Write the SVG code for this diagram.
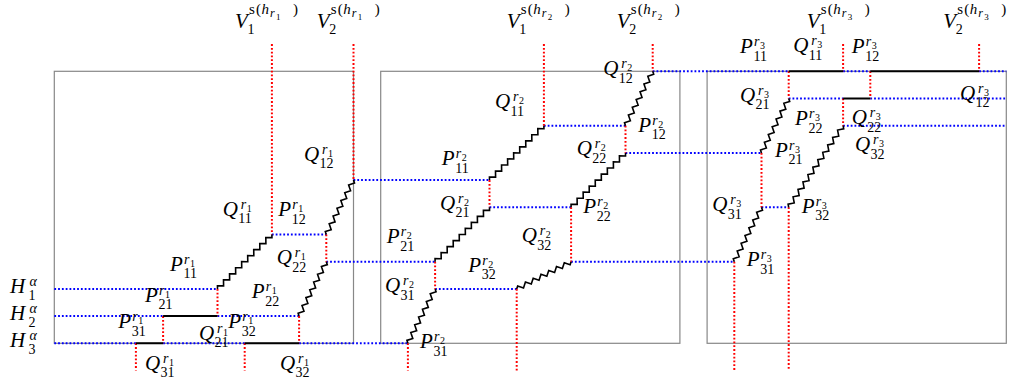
<svg xmlns="http://www.w3.org/2000/svg" xmlns:xlink="http://www.w3.org/1999/xlink" width="1017" height="390" viewBox="0 0 1017 390">
<style>
text{font-family:"Liberation Serif","Times New Roman",serif;fill:#000}
.m{font-size:21px;font-style:italic}
.s{font-size:14px;font-style:normal}
.si{font-size:14px;font-style:italic}
.ss{font-size:10px;font-style:normal}
.vs{font-size:15px;font-style:normal}
.vi{font-size:15px;font-style:italic}
.vr{font-size:12px;font-style:italic}
.vd{font-size:9px;font-style:normal}
.box{fill:none;stroke:#888;stroke-width:1.2}
.blue{fill:none;stroke:#0000ff;stroke-width:2;stroke-dasharray:1.8 2}
.red{fill:none;stroke:#ff0000;stroke-width:2;stroke-dasharray:1.8 2}
.solid{fill:none;stroke:#000;stroke-width:2}
.zz{fill:none;stroke:#000;stroke-width:1.6;stroke-linejoin:miter}
</style>
<defs>
<path id="zA" d="M0 0l2.137-2.2l4.274 4.4l4.274-4.4l4.274 4.4l4.274-4.4l4.274 4.4l4.274-4.4l4.274 4.4l4.274-4.4l4.274 4.4l4.274-4.4l4.274 4.4l4.274-4.4l4.274 4.4l4.274-4.4l4.274 4.4l4.274-4.4l4.274 4.4l2.137-2.2"/>
<path id="zB" d="M0 0l2.172-2.2l4.344 4.4l4.344-4.4l4.344 4.4l4.344-4.4l4.344 4.4l4.344-4.4l4.344 4.4l4.344-4.4l4.344 4.4l4.344-4.4l4.344 4.4l4.344-4.4l4.344 4.4l2.172-2.2"/>
<path id="zC" d="M0 0l2.229-2.2l4.458 4.4l4.458-4.4l4.458 4.4l4.458-4.4l4.458 4.4l4.458-4.4l4.458 4.4l4.458-4.4l4.458 4.4l4.458-4.4l4.458 4.4l4.458-4.4l4.458 4.4l4.458-4.4l4.458 4.4l4.458-4.4l4.458 4.4l4.458-4.4l4.458 4.4l4.458-4.4l4.458 4.4l2.229-2.2"/>
</defs>
<g id="frames">
<rect class="box" x="54.3" y="71.3" width="299.2" height="272"/>
<rect class="box" x="380.7" y="71.3" width="299.2" height="272"/>
<rect class="box" x="707.1" y="71.3" width="299.2" height="272"/>
</g>
<g id="connectors">
<path class="blue" d="M54.3 288.9H217.5M54.3 316.1H163.1M217.5 316.1H299.1M54.3 343.3H135.9M163.1 343.3H244.7M299.1 343.3H407.9M271.9 234.5H326.3M326.3 261.7H435.1M353.5 180.1H489.5M435.1 288.9H516.7M489.5 207.3H571.1M571.1 261.7H734.3M543.9 125.7H625.5M625.5 152.9H761.5M652.7 71.3H788.7M843.1 71.3H870.3M979.1 71.3H1006.3M788.7 98.5H843.1M870.3 98.5H1006.3M843.1 125.7H1006.3M761.5 207.3H788.7"/>
<path class="red" d="M135.9 343.3V370.5M163.1 316.1V343.3M217.5 288.9V316.1M244.7 343.3V370.5M271.9 44.1V234.5M299.1 316.1V343.3M326.3 234.5V261.7M353.5 44.1V180.1M407.9 343.3V370.5M435.1 261.7V288.9M489.5 180.1V207.3M516.7 288.9V370.5M543.9 44.1V125.7M571.1 207.3V261.7M625.5 125.7V152.9M652.7 44.1V71.3M734.3 261.7V370.5M761.5 152.9V207.3M788.7 71.3V98.5M788.7 207.3V370.5M843.1 44.1V71.3M843.1 98.5V125.7M870.3 71.3V98.5M979.1 44.1V71.3"/>
<path class="solid" d="M163.1 316.1H217.5M135.9 343.3H163.1M244.7 343.3H299.1M788.7 71.3H843.1M870.3 71.3H979.1M843.1 98.5H870.3"/>
<use class="zz" xlink:href="#zA" transform="translate(217.5,288.9) rotate(-45)"/>
<use class="zz" xlink:href="#zB" transform="translate(299.1,316.1) rotate(-63.435)"/>
<use class="zz" xlink:href="#zB" transform="translate(326.3,234.5) rotate(-63.435)"/>
<use class="zz" xlink:href="#zB" transform="translate(407.9,343.3) rotate(-63.435)"/>
<use class="zz" xlink:href="#zA" transform="translate(435.1,261.7) rotate(-45)"/>
<use class="zz" xlink:href="#zA" transform="translate(489.5,180.1) rotate(-45)"/>
<use class="zz" xlink:href="#zB" transform="translate(516.7,288.9) rotate(-26.565)"/>
<use class="zz" xlink:href="#zA" transform="translate(571.1,207.3) rotate(-45)"/>
<use class="zz" xlink:href="#zB" transform="translate(625.5,125.7) rotate(-63.435)"/>
<use class="zz" xlink:href="#zB" transform="translate(734.3,261.7) rotate(-63.435)"/>
<use class="zz" xlink:href="#zB" transform="translate(761.5,152.9) rotate(-63.435)"/>
<use class="zz" xlink:href="#zC" transform="translate(788.7,207.3) rotate(-56.31)"/>
</g>
<g id="H1"><text><tspan class="m" x="10" y="292.7">H</tspan><tspan class="si" x="29.5" y="285.5">α</tspan><tspan class="s" x="28.5" y="299.5">1</tspan></text></g>
<g id="H2"><text><tspan class="m" x="10" y="320">H</tspan><tspan class="si" x="29.5" y="312.8">α</tspan><tspan class="s" x="28.5" y="326.8">2</tspan></text></g>
<g id="H3"><text><tspan class="m" x="10" y="347">H</tspan><tspan class="si" x="29.5" y="339.8">α</tspan><tspan class="s" x="28.5" y="353.8">3</tspan></text></g>
<g id="V1r1"><text><tspan class="m" x="235" y="28">V</tspan><tspan class="s" x="247.5" y="33.5">1</tspan><tspan class="vs" x="249" y="14">s</tspan><tspan class="vs" x="256" y="14">(</tspan><tspan class="vi" x="261.5" y="14">h</tspan><tspan class="vr" x="270" y="17">r</tspan><tspan class="vd" x="276" y="19.5">1</tspan><tspan class="vs" x="293" y="14">)</tspan></text></g>
<g id="V2r1"><text><tspan class="m" x="316.7" y="28">V</tspan><tspan class="s" x="329.2" y="33.5">2</tspan><tspan class="vs" x="330.7" y="14">s</tspan><tspan class="vs" x="337.7" y="14">(</tspan><tspan class="vi" x="343.2" y="14">h</tspan><tspan class="vr" x="351.7" y="17">r</tspan><tspan class="vd" x="357.7" y="19.5">1</tspan><tspan class="vs" x="374.7" y="14">)</tspan></text></g>
<g id="V1r2"><text><tspan class="m" x="506.7" y="28">V</tspan><tspan class="s" x="519.2" y="33.5">1</tspan><tspan class="vs" x="520.7" y="14">s</tspan><tspan class="vs" x="527.7" y="14">(</tspan><tspan class="vi" x="533.2" y="14">h</tspan><tspan class="vr" x="541.7" y="17">r</tspan><tspan class="vd" x="547.7" y="19.5">2</tspan><tspan class="vs" x="564.7" y="14">)</tspan></text></g>
<g id="V2r2"><text><tspan class="m" x="616.7" y="28">V</tspan><tspan class="s" x="629.2" y="33.5">2</tspan><tspan class="vs" x="630.7" y="14">s</tspan><tspan class="vs" x="637.7" y="14">(</tspan><tspan class="vi" x="643.2" y="14">h</tspan><tspan class="vr" x="651.7" y="17">r</tspan><tspan class="vd" x="657.7" y="19.5">2</tspan><tspan class="vs" x="674.7" y="14">)</tspan></text></g>
<g id="V1r3"><text><tspan class="m" x="806.7" y="28">V</tspan><tspan class="s" x="819.2" y="33.5">1</tspan><tspan class="vs" x="820.7" y="14">s</tspan><tspan class="vs" x="827.7" y="14">(</tspan><tspan class="vi" x="833.2" y="14">h</tspan><tspan class="vr" x="841.7" y="17">r</tspan><tspan class="vd" x="847.7" y="19.5">3</tspan><tspan class="vs" x="864.7" y="14">)</tspan></text></g>
<g id="V2r3"><text><tspan class="m" x="943.3" y="28">V</tspan><tspan class="s" x="955.8" y="33.5">2</tspan><tspan class="vs" x="957.3" y="14">s</tspan><tspan class="vs" x="964.3" y="14">(</tspan><tspan class="vi" x="969.8" y="14">h</tspan><tspan class="vr" x="978.3" y="17">r</tspan><tspan class="vd" x="984.3" y="19.5">3</tspan><tspan class="vs" x="1001.3" y="14">)</tspan></text></g>
<g id="Q12r1"><text><tspan class="m" x="304" y="160.5">Q</tspan><tspan class="si" x="322" y="153.5">r</tspan><tspan class="ss" x="328" y="156.5">1</tspan><tspan class="s" x="319.5" y="168.2">12</tspan></text></g>
<g id="Q11r1"><text><tspan class="m" x="222.7" y="215.7">Q</tspan><tspan class="si" x="240.7" y="208.7">r</tspan><tspan class="ss" x="246.7" y="211.7">1</tspan><tspan class="s" x="238.2" y="223.4">11</tspan></text></g>
<g id="P12r1"><text><tspan class="m" x="278.3" y="216">P</tspan><tspan class="si" x="292.3" y="209">r</tspan><tspan class="ss" x="298.3" y="212">1</tspan><tspan class="s" x="291.8" y="223.7">12</tspan></text></g>
<g id="P11r1"><text><tspan class="m" x="170" y="270.7">P</tspan><tspan class="si" x="184" y="263.7">r</tspan><tspan class="ss" x="190" y="266.7">1</tspan><tspan class="s" x="183.5" y="278.4">11</tspan></text></g>
<g id="Q22r1"><text><tspan class="m" x="276.7" y="264">Q</tspan><tspan class="si" x="294.7" y="257">r</tspan><tspan class="ss" x="300.7" y="260">1</tspan><tspan class="s" x="292.2" y="271.7">22</tspan></text></g>
<g id="P22r1"><text><tspan class="m" x="251.7" y="298.3">P</tspan><tspan class="si" x="265.7" y="291.3">r</tspan><tspan class="ss" x="271.7" y="294.3">1</tspan><tspan class="s" x="265.2" y="306">22</tspan></text></g>
<g id="P21r1"><text><tspan class="m" x="145" y="301.7">P</tspan><tspan class="si" x="159" y="294.7">r</tspan><tspan class="ss" x="165" y="297.7">1</tspan><tspan class="s" x="158.5" y="309.4">21</tspan></text></g>
<g id="P31r1"><text><tspan class="m" x="118.3" y="328.3">P</tspan><tspan class="si" x="132.3" y="321.3">r</tspan><tspan class="ss" x="138.3" y="324.3">1</tspan><tspan class="s" x="131.8" y="336">31</tspan></text></g>
<g id="Q21r1"><text><tspan class="m" x="199" y="339.5">Q</tspan><tspan class="si" x="217" y="332.5">r</tspan><tspan class="ss" x="223" y="335.5">1</tspan><tspan class="s" x="214.5" y="347.2">21</tspan></text></g>
<g id="P32r1"><text><tspan class="m" x="228.3" y="328.3">P</tspan><tspan class="si" x="242.3" y="321.3">r</tspan><tspan class="ss" x="248.3" y="324.3">1</tspan><tspan class="s" x="241.8" y="336">32</tspan></text></g>
<g id="Q31r1"><text><tspan class="m" x="145" y="369.6">Q</tspan><tspan class="si" x="163" y="362.6">r</tspan><tspan class="ss" x="169" y="365.6">1</tspan><tspan class="s" x="160.5" y="377.3">31</tspan></text></g>
<g id="Q32r1"><text><tspan class="m" x="280" y="369.6">Q</tspan><tspan class="si" x="298" y="362.6">r</tspan><tspan class="ss" x="304" y="365.6">1</tspan><tspan class="s" x="295.5" y="377.3">32</tspan></text></g>
<g id="Q12r2"><text><tspan class="m" x="603.3" y="75">Q</tspan><tspan class="si" x="621.3" y="68">r</tspan><tspan class="ss" x="627.3" y="71">2</tspan><tspan class="s" x="618.8" y="82.7">12</tspan></text></g>
<g id="Q11r2"><text><tspan class="m" x="495" y="108">Q</tspan><tspan class="si" x="513" y="101">r</tspan><tspan class="ss" x="519" y="104">2</tspan><tspan class="s" x="510.5" y="115.7">11</tspan></text></g>
<g id="P12r2"><text><tspan class="m" x="638.3" y="131.7">P</tspan><tspan class="si" x="652.3" y="124.7">r</tspan><tspan class="ss" x="658.3" y="127.7">2</tspan><tspan class="s" x="651.8" y="139.4">12</tspan></text></g>
<g id="Q22r2"><text><tspan class="m" x="576.7" y="155.3">Q</tspan><tspan class="si" x="594.7" y="148.3">r</tspan><tspan class="ss" x="600.7" y="151.3">2</tspan><tspan class="s" x="592.2" y="163">22</tspan></text></g>
<g id="P11r2"><text><tspan class="m" x="441.7" y="165">P</tspan><tspan class="si" x="455.7" y="158">r</tspan><tspan class="ss" x="461.7" y="161">2</tspan><tspan class="s" x="455.2" y="172.7">11</tspan></text></g>
<g id="Q21r2"><text><tspan class="m" x="440" y="209.5">Q</tspan><tspan class="si" x="458" y="202.5">r</tspan><tspan class="ss" x="464" y="205.5">2</tspan><tspan class="s" x="455.5" y="217.2">21</tspan></text></g>
<g id="P22r2"><text><tspan class="m" x="583.3" y="213.3">P</tspan><tspan class="si" x="597.3" y="206.3">r</tspan><tspan class="ss" x="603.3" y="209.3">2</tspan><tspan class="s" x="596.8" y="221">22</tspan></text></g>
<g id="P21r2"><text><tspan class="m" x="386.7" y="243.3">P</tspan><tspan class="si" x="400.7" y="236.3">r</tspan><tspan class="ss" x="406.7" y="239.3">2</tspan><tspan class="s" x="400.2" y="251">21</tspan></text></g>
<g id="Q32r2"><text><tspan class="m" x="521.7" y="242">Q</tspan><tspan class="si" x="539.7" y="235">r</tspan><tspan class="ss" x="545.7" y="238">2</tspan><tspan class="s" x="537.2" y="249.7">32</tspan></text></g>
<g id="P32r2"><text><tspan class="m" x="468.3" y="271.7">P</tspan><tspan class="si" x="482.3" y="264.7">r</tspan><tspan class="ss" x="488.3" y="267.7">2</tspan><tspan class="s" x="481.8" y="279.4">32</tspan></text></g>
<g id="Q31r2"><text><tspan class="m" x="385" y="292">Q</tspan><tspan class="si" x="403" y="285">r</tspan><tspan class="ss" x="409" y="288">2</tspan><tspan class="s" x="400.5" y="299.7">31</tspan></text></g>
<g id="P31r2"><text><tspan class="m" x="420" y="348.3">P</tspan><tspan class="si" x="434" y="341.3">r</tspan><tspan class="ss" x="440" y="344.3">2</tspan><tspan class="s" x="433.5" y="356">31</tspan></text></g>
<g id="P11r3"><text><tspan class="m" x="740" y="53.3">P</tspan><tspan class="si" x="754" y="46.3">r</tspan><tspan class="ss" x="760" y="49.3">3</tspan><tspan class="s" x="753.5" y="61">11</tspan></text></g>
<g id="Q11r3"><text><tspan class="m" x="793.3" y="52">Q</tspan><tspan class="si" x="811.3" y="45">r</tspan><tspan class="ss" x="817.3" y="48">3</tspan><tspan class="s" x="808.8" y="59.7">11</tspan></text></g>
<g id="P12r3"><text><tspan class="m" x="851.7" y="53.3">P</tspan><tspan class="si" x="865.7" y="46.3">r</tspan><tspan class="ss" x="871.7" y="49.3">3</tspan><tspan class="s" x="865.2" y="61">12</tspan></text></g>
<g id="Q21r3"><text><tspan class="m" x="740" y="101.7">Q</tspan><tspan class="si" x="758" y="94.7">r</tspan><tspan class="ss" x="764" y="97.7">3</tspan><tspan class="s" x="755.5" y="109.4">21</tspan></text></g>
<g id="Q12r3"><text><tspan class="m" x="960" y="99.7">Q</tspan><tspan class="si" x="978" y="92.7">r</tspan><tspan class="ss" x="984" y="95.7">3</tspan><tspan class="s" x="975.5" y="107.4">12</tspan></text></g>
<g id="P22r3"><text><tspan class="m" x="795" y="125">P</tspan><tspan class="si" x="809" y="118">r</tspan><tspan class="ss" x="815" y="121">3</tspan><tspan class="s" x="808.5" y="132.7">22</tspan></text></g>
<g id="Q22r3"><text><tspan class="m" x="851.7" y="124">Q</tspan><tspan class="si" x="869.7" y="117">r</tspan><tspan class="ss" x="875.7" y="120">3</tspan><tspan class="s" x="867.2" y="131.7">22</tspan></text></g>
<g id="P21r3"><text><tspan class="m" x="775" y="156.7">P</tspan><tspan class="si" x="789" y="149.7">r</tspan><tspan class="ss" x="795" y="152.7">3</tspan><tspan class="s" x="788.5" y="164.4">21</tspan></text></g>
<g id="Q32r3"><text><tspan class="m" x="855" y="151.3">Q</tspan><tspan class="si" x="873" y="144.3">r</tspan><tspan class="ss" x="879" y="147.3">3</tspan><tspan class="s" x="870.5" y="159">32</tspan></text></g>
<g id="Q31r3"><text><tspan class="m" x="712.3" y="211.3">Q</tspan><tspan class="si" x="730.3" y="204.3">r</tspan><tspan class="ss" x="736.3" y="207.3">3</tspan><tspan class="s" x="727.8" y="219">31</tspan></text></g>
<g id="P32r3"><text><tspan class="m" x="801.7" y="212.7">P</tspan><tspan class="si" x="815.7" y="205.7">r</tspan><tspan class="ss" x="821.7" y="208.7">3</tspan><tspan class="s" x="815.2" y="220.4">32</tspan></text></g>
<g id="P31r3"><text><tspan class="m" x="746.7" y="266">P</tspan><tspan class="si" x="760.7" y="259">r</tspan><tspan class="ss" x="766.7" y="262">3</tspan><tspan class="s" x="760.2" y="273.7">31</tspan></text></g>
</svg>
